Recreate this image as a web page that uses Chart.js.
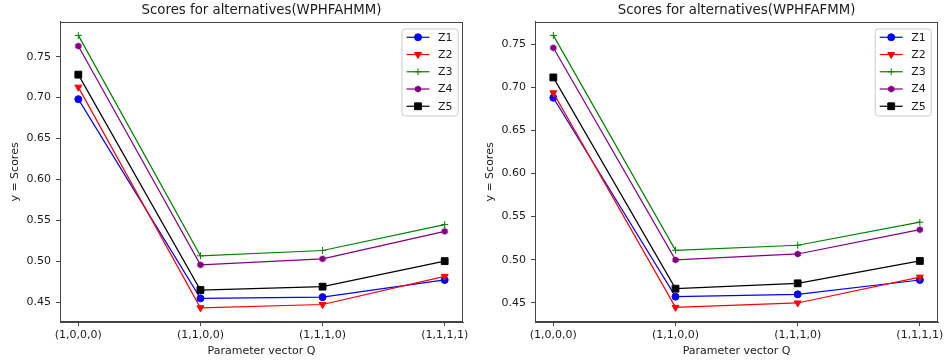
<!DOCTYPE html>
<html><head><meta charset="utf-8">
<script src="https://cdn.jsdelivr.net/npm/chart.js@4.4.0/dist/chart.umd.min.js"></script>
<style>
html,body{margin:0;padding:0;background:#fff;}
#wrap{position:relative;width:944px;height:363px;overflow:hidden;background:#fff;}
#c1{position:absolute;left:0;top:0;}
#c2{position:absolute;left:470px;top:0;}
</style></head><body>
<div id="wrap"><canvas id="c1" width="470" height="363"></canvas><canvas id="c2" width="474" height="363"></canvas></div>
<script>
// ---- data ----
const categories = ['(1,0,0,0)', '(1,1,0,0)', '(1,1,1,0)', '(1,1,1,1)'];
const seriesNames = ['Z1', 'Z2', 'Z3', 'Z4', 'Z5'];
const yTicks = [0.45, 0.50, 0.55, 0.60, 0.65, 0.70, 0.75];

const titleLeft = 'Scores for alternatives(WPHFAHMM)';
const titleRight = 'Scores for alternatives(WPHFAFMM)';

// WPHFAHMM (left)
const ahmmZ1 = [0.698, 0.4545, 0.456, 0.477];
const ahmmZ2 = [0.7127, 0.443, 0.447, 0.4814];
const ahmmZ3 = [0.776, 0.5065, 0.513, 0.5447];
const ahmmZ4 = [0.763, 0.4955, 0.5028, 0.5364];
const ahmmZ5 = [0.728, 0.4647, 0.4688, 0.500];

// WPHFAFMM (right)
const afmmZ1 = [0.688, 0.457, 0.4597, 0.4764];
const afmmZ2 = [0.6937, 0.4446, 0.4497, 0.4797];
const afmmZ3 = [0.7604, 0.5109, 0.5167, 0.5435];
const afmmZ4 = [0.746, 0.4997, 0.5066, 0.5348];
const afmmZ5 = [0.7116, 0.4663, 0.4725, 0.4985];

// ---- styling ----
const FONT = 'DejaVu Sans';
const TXT = '#1a1a1a';
const AX = '#444444';

function hexagonImage(color) {
  const c = document.createElement('canvas');
  c.width = 8; c.height = 8;
  const g = c.getContext('2d');
  g.fillStyle = color;
  g.beginPath();
  for (let k = 0; k < 6; k++) {
    const a = Math.PI / 3 * k - Math.PI / 2;
    const px = 4 + 3.6 * Math.cos(a), py = 4 + 3.6 * Math.sin(a);
    if (k === 0) g.moveTo(px, py); else g.lineTo(px, py);
  }
  g.closePath(); g.fill();
  return c;
}
const hexPurple = hexagonImage('#800080');

const seriesStyles = [
  {color: '#0000ff', pointStyle: 'circle', radius: 3.5, rotation: 0, bw: 1},
  {color: '#ff0000', pointStyle: 'triangle', radius: 4, rotation: 180, bw: 1},
  {color: '#008000', pointStyle: 'cross', radius: 3.5, rotation: 0, bw: 1},
  {color: '#800080', pointStyle: hexPurple, radius: 4, rotation: 0, bw: 1},
  {color: '#000000', pointStyle: 'rect', radius: 4.8, rotation: 0, bw: 1}
];

function buildDatasets(seriesList) {
  return seriesList.map((vals, i) => {
    const s = seriesStyles[i];
    return {
      label: seriesNames[i],
      data: vals.map((v, j) => ({x: j, y: v})),
      borderColor: s.color,
      backgroundColor: s.color,
      borderWidth: 1.2,
      pointStyle: s.pointStyle,
      pointRadius: s.radius,
      pointRotation: s.rotation,
      pointBackgroundColor: s.color,
      pointBorderColor: s.color,
      pointBorderWidth: s.bw,
      pointHoverRadius: s.radius,
      tension: 0,
      fill: false,
      clip: false,
      order: seriesList.length - 1 - i
    };
  });
}

const framePlugin = {
  id: 'frame',
  afterDatasetsDraw(chart) {
    const a = chart.chartArea, ctx = chart.ctx;
    ctx.save();
    ctx.strokeStyle = AX; ctx.lineWidth = 1;
    ctx.strokeRect(Math.round(a.left) + 0.5, Math.round(a.top) + 0.5,
                   Math.round(a.right - a.left) - 1, Math.round(a.bottom - a.top) - 1);
    ctx.restore();
  }
};

function fallbackPoint(ctx, o, x, y) {
  const r = o.radius;
  ctx.beginPath();
  if (o.pointStyle === 'circle') { ctx.arc(x, y, r, 0, Math.PI * 2); ctx.fill(); ctx.stroke(); }
  else if (o.pointStyle === 'rect') { const s = r * Math.SQRT1_2; ctx.rect(x - s, y - s, 2 * s, 2 * s); ctx.fill(); ctx.stroke(); }
  else if (o.pointStyle === 'triangle') { ctx.moveTo(x - r * 0.866, y - r * 0.5); ctx.lineTo(x + r * 0.866, y - r * 0.5); ctx.lineTo(x, y + r); ctx.closePath(); ctx.fill(); ctx.stroke(); }
  else if (o.pointStyle === 'cross') { ctx.moveTo(x - r, y); ctx.lineTo(x + r, y); ctx.moveTo(x, y - r); ctx.lineTo(x, y + r); ctx.stroke(); }
  else if (o.pointStyle instanceof HTMLCanvasElement) { ctx.drawImage(o.pointStyle, x - o.pointStyle.width / 2, y - o.pointStyle.height / 2); }
}

const legendPlugin = {
  id: 'boxLegend',
  afterDraw(chart, args, opts) {
    const ctx = chart.ctx, a = chart.chartArea;
    const w = 56, h = 87;
    const x0 = a.right - opts.right - w, y0 = a.top + 7;
    ctx.save();
    // box
    const r = 3;
    ctx.beginPath();
    ctx.moveTo(x0 + r, y0);
    ctx.lineTo(x0 + w - r, y0); ctx.quadraticCurveTo(x0 + w, y0, x0 + w, y0 + r);
    ctx.lineTo(x0 + w, y0 + h - r); ctx.quadraticCurveTo(x0 + w, y0 + h, x0 + w - r, y0 + h);
    ctx.lineTo(x0 + r, y0 + h); ctx.quadraticCurveTo(x0, y0 + h, x0, y0 + h - r);
    ctx.lineTo(x0, y0 + r); ctx.quadraticCurveTo(x0, y0, x0 + r, y0);
    ctx.closePath();
    ctx.fillStyle = 'rgba(255,255,255,0.85)'; ctx.fill();
    ctx.strokeStyle = '#cccccc'; ctx.lineWidth = 1; ctx.stroke();
    chart.data.datasets.forEach((ds, i) => {
      const y = y0 + 8.3 + i * 17.25;
      ctx.strokeStyle = ds.borderColor; ctx.fillStyle = ds.borderColor;
      ctx.lineWidth = ds.borderWidth;
      ctx.beginPath(); ctx.moveTo(x0 + 4.5, y); ctx.lineTo(x0 + 27.5, y); ctx.stroke();
      ctx.lineWidth = ds.pointBorderWidth;
      const po = {pointStyle: ds.pointStyle, rotation: ds.pointRotation, radius: ds.pointRadius, borderWidth: ds.pointBorderWidth};
      if (Chart.helpers && Chart.helpers.drawPoint) Chart.helpers.drawPoint(ctx, po, x0 + 16, y);
      else fallbackPoint(ctx, po, x0 + 16, y);
      ctx.fillStyle = TXT;
      ctx.font = '11px "' + FONT + '"';
      ctx.textBaseline = 'middle'; ctx.textAlign = 'left';
      ctx.fillText(ds.label, x0 + 36, y + 0.5);
    });
    ctx.restore();
  }
};

function makeChart(canvasId, title, seriesList, yMin, yMax, axisWidth, padRight, yTitlePad, legendRight) {
  return new Chart(document.getElementById(canvasId), {
    type: 'line',
    data: {datasets: buildDatasets(seriesList)},
    plugins: [framePlugin, legendPlugin],
    options: {
      responsive: false,
      devicePixelRatio: 1,
      animation: false,
      events: [],
      layout: {padding: {left: 0, right: padRight, top: 0, bottom: 0}},
      plugins: {
        legend: {display: false},
        tooltip: {enabled: false},
        title: {
          display: true, text: title, fullSize: false, color: TXT,
          font: {family: FONT, size: 13.3, weight: 'normal'},
          padding: {top: 3, bottom: 3}
        },
        boxLegend: {right: legendRight}
      },
      scales: {
        x: {
          type: 'linear', min: -0.15, max: 3.15,
          afterBuildTicks: ax => { ax.ticks = categories.map((c, i) => ({value: i})); },
          ticks: {
            callback: (v, idx) => categories[idx],
            maxRotation: 0, minRotation: 0, autoSkip: false, padding: 3,
            color: TXT, font: {family: FONT, size: 11}
          },
          grid: {display: true, drawOnChartArea: false, drawTicks: true, tickLength: 4, color: AX},
          border: {display: true, color: AX, width: 1},
          title: {display: true, text: 'Parameter vector Q', color: TXT,
                  font: {family: FONT, size: 11}, padding: {top: 0, bottom: 5}},
          afterFit: ax => { ax.height = 41; ax.paddingLeft = 0; ax.paddingRight = 0; }
        },
        y: {
          type: 'linear', min: yMin, max: yMax,
          afterBuildTicks: ax => { ax.ticks = yTicks.map(v => ({value: v})); },
          ticks: {
            callback: v => Number(v).toFixed(2),
            padding: 5, color: TXT, font: {family: FONT, size: 11}
          },
          grid: {display: true, drawOnChartArea: false, drawTicks: true, tickLength: 4, color: AX},
          border: {display: true, color: AX, width: 1},
          title: {display: true, text: 'y = Scores', color: TXT,
                  font: {family: FONT, size: 11}, padding: {top: yTitlePad, bottom: 0}},
          afterFit: ax => { ax.width = axisWidth; ax.paddingTop = 0; ax.paddingBottom = 0; }
        }
      }
    }
  });
}

makeChart('c1', titleLeft, [ahmmZ1, ahmmZ2, ahmmZ3, ahmmZ4, ahmmZ5], 0.4256, 0.7924, 60, 7, 8.4, 5);
makeChart('c2', titleRight, [afmmZ1, afmmZ2, afmmZ3, afmmZ4, afmmZ5], 0.4276, 0.776, 65, 4, 13.4, 7);
</script>
</body></html>
